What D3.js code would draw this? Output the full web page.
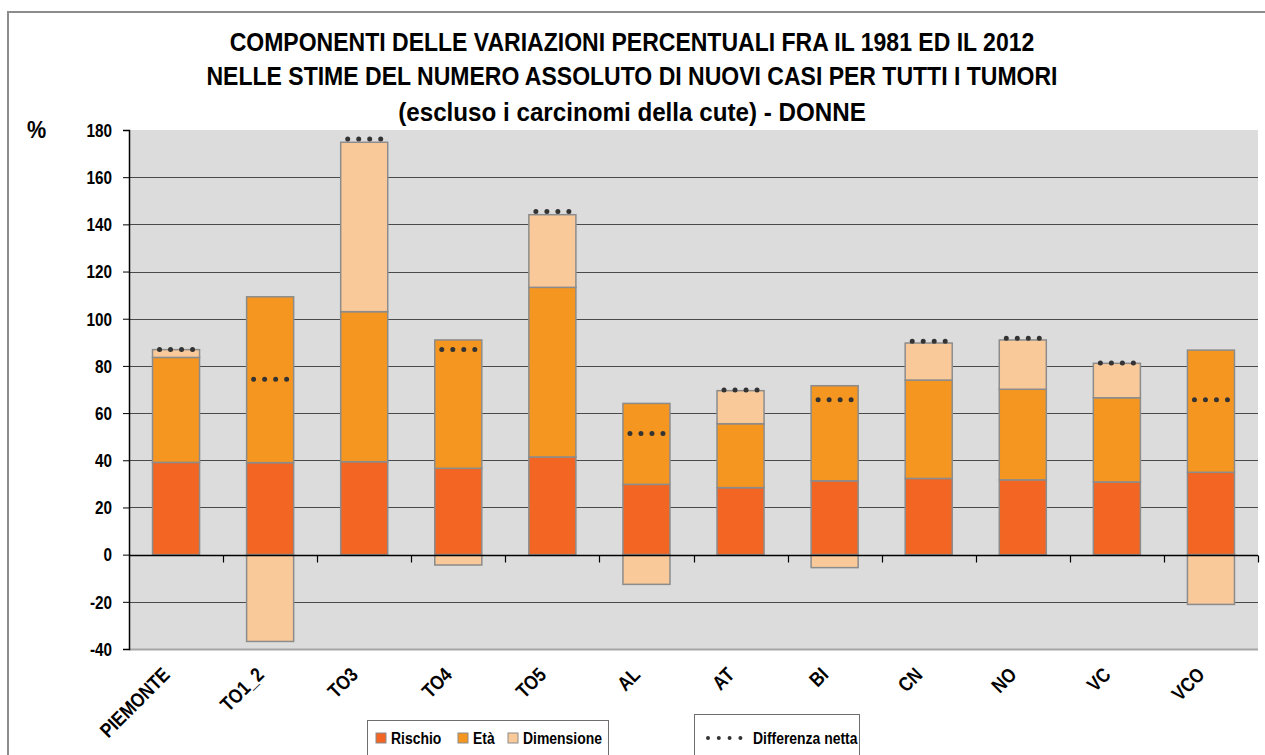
<!DOCTYPE html>
<html>
<head>
<meta charset="utf-8">
<script src="https://cdnjs.cloudflare.com/ajax/libs/d3/7.8.5/d3.min.js"></script>
<style>
  body { margin: 0; background: #fff; }
  svg text { font-family: "Liberation Sans Narrow", "Arial Narrow", "Liberation Sans", Arial, sans-serif; font-weight: bold; fill: #000; }
</style>
</head>
<body>
<div id="chart"></div>
<script>
	//Data
	var categories = ["PIEMONTE", "TO1_2", "TO3", "TO4", "TO5", "AL", "AT", "BI", "CN", "NO", "VC", "VCO"];
	var rischio    = [39.1, 39.0, 39.4, 36.6, 41.4, 29.8, 28.4, 31.3, 32.3, 31.7, 30.8, 34.9];
	var eta        = [44.5, 70.3, 63.6, 54.4, 71.9, 34.3, 27.1, 40.3, 41.7, 38.4, 35.7, 51.8];
	var dimensione = [3.3, -36.8, 71.8, -4.4, 30.8, -12.6, 14.0, -5.5, 15.7, 20.9, 14.6, -21.1];
	var netta      = [87.0, 74.3, 176.2, 87.0, 145.4, 51.3, 69.8, 65.7, 90.5, 91.7, 81.2, 65.7];
	var yTicks     = [-40, -20, 0, 20, 40, 60, 80, 100, 120, 140, 160, 180];
	var seriesNames = ["Rischio", "Età", "Dimensione"];
	var titleLines = [
		"COMPONENTI DELLE VARIAZIONI PERCENTUALI FRA IL 1981 ED IL 2012",
		"NELLE STIME DEL NUMERO ASSOLUTO DI NUOVI CASI PER TUTTI I TUMORI",
		"(escluso i carcinomi della cute) - DONNE"
	];

	var colors = d3.scaleOrdinal()
		.domain(seriesNames)
		.range(["#f26522", "#f4961f", "#f9c999"]);

	var width = 1265, height = 755;
	var plot = { left: 129, right: 1258, top: 130, bottom: 649 };

	//squeeze text horizontally, the original uses a condensed face
	function narrow(sel, f) {
		sel.each(function(d, i){
			var k = typeof f === "function" ? f(d, i) : f;
			var w = this.getComputedTextLength();
			d3.select(this)
				.attr("textLength", w * k)
				.attr("lengthAdjust", "spacingAndGlyphs");
		});
	}

	var svg = d3.select("#chart").append("svg")
		.attr("width", width)
		.attr("height", height);

	//outer chart frame (runs off the right and bottom edge)
	svg.append("rect")
		.attr("x", 8).attr("y", 12)
		.attr("width", 1300).attr("height", 800)
		.attr("fill", "#fff")
		.attr("stroke", "#8c8c8c")
		.attr("stroke-width", 2);

	var x = d3.scaleBand()
		.domain(categories)
		.range([plot.left, plot.right])
		.paddingInner(0.5)
		.paddingOuter(0.25);

	var xOuter = d3.scaleBand()
		.domain(categories)
		.range([plot.left, plot.right]);

	var y = d3.scaleLinear()
		.domain([-40, 180])
		.range([plot.bottom, plot.top]);

	//plot background
	svg.append("rect")
		.attr("x", plot.left).attr("y", plot.top)
		.attr("width", plot.right - plot.left)
		.attr("height", plot.bottom - plot.top)
		.attr("fill", "#dcdcdc");
	svg.append("line")
		.attr("x1", plot.left).attr("x2", plot.right)
		.attr("y1", plot.bottom + 0.5).attr("y2", plot.bottom + 0.5)
		.attr("stroke", "#a6a6a6").attr("stroke-width", 2);

	//gridlines
	svg.append("g")
		.selectAll("line")
		.data(yTicks.filter(function(d){ return d > -40 && d < 180 && d != 0; }))
		.enter()
		.append("line")
		.attr("x1", plot.left).attr("x2", plot.right)
		.attr("y1", function(d){ return Math.round(y(d)) + 0.5; })
		.attr("y2", function(d){ return Math.round(y(d)) + 0.5; })
		.attr("stroke", "#4a4a4a")
		.attr("stroke-width", 1.2);

	//stacked bars, negatives go below zero
	var rows = categories.map(function(c, i){
		return { cat: c, "Rischio": rischio[i], "Età": eta[i], "Dimensione": dimensione[i] };
	});
	var stack = d3.stack()
		.keys(seriesNames)
		.offset(d3.stackOffsetDiverging);
	var layers = stack(rows);

	svg.append("g")
		.selectAll("g")
		.data(layers)
		.enter()
		.append("g")
		.attr("fill", function(d){ return colors(d.key); })
		.selectAll("rect")
		.data(function(d){ return d; })
		.enter()
		.append("rect")
		.attr("x", function(d){ return x(d.data.cat); })
		.attr("width", x.bandwidth())
		.attr("y", function(d){ return y(Math.max(d[0], d[1])); })
		.attr("height", function(d){ return Math.abs(y(d[0]) - y(d[1])); })
		.attr("stroke", "#8c8c8c")
		.attr("stroke-width", 1.5);

	//y axis
	var yAxis = d3.axisLeft(y)
		.tickValues(yTicks)
		.tickSize(6)
		.tickPadding(11)
		.tickFormat(function(d){ return String(d); });
	var gy = svg.append("g")
		.attr("transform", "translate(" + plot.left + ",0)")
		.call(yAxis);
	gy.select(".domain").attr("stroke", "#000").attr("stroke-width", 1.5);
	gy.selectAll(".tick line").attr("stroke", "#000");
	gy.selectAll(".tick text")
		.style("font-size", "18px")
		.attr("dy", "0.35em")
		.call(narrow, 0.85);

	//x axis on the zero line
	var zeroY = Math.round(y(0)) + 0.5;
	svg.append("line")
		.attr("x1", plot.left).attr("x2", plot.right)
		.attr("y1", zeroY).attr("y2", zeroY)
		.attr("stroke", "#000").attr("stroke-width", 1.5);
	svg.append("g")
		.selectAll("line")
		.data(categories)
		.enter()
		.append("line")
		.attr("x1", function(d){ return Math.round(xOuter(d) + xOuter.bandwidth()) + 0.5; })
		.attr("x2", function(d){ return Math.round(xOuter(d) + xOuter.bandwidth()) + 0.5; })
		.attr("y1", zeroY).attr("y2", zeroY + 7)
		.attr("stroke", "#000").attr("stroke-width", 1.2);

	//category labels, rotated
	svg.append("g")
		.selectAll("text")
		.data(categories)
		.enter()
		.append("text")
		.attr("transform", function(d){
			var cx = xOuter(d) + xOuter.bandwidth() / 2 - 5;
			return "translate(" + cx + ",676) rotate(-45)";
		})
		.attr("text-anchor", "end")
		.style("font-size", "20px")
		.text(function(d){ return d; })
		.call(narrow, 0.85);

	//net difference as 4 dots
	svg.append("g")
		.selectAll("line")
		.data(categories)
		.enter()
		.append("line")
		.attr("x1", function(d){ return x(d) + x.bandwidth() / 2 - 16.5; })
		.attr("x2", function(d){ return x(d) + x.bandwidth() / 2 + 17; })
		.attr("y1", function(d, i){ return y(netta[i]); })
		.attr("y2", function(d, i){ return y(netta[i]); })
		.attr("stroke", "#333")
		.attr("stroke-width", 5)
		.attr("stroke-linecap", "round")
		.attr("stroke-dasharray", "0 11");

	//title
	svg.append("g")
		.selectAll("text")
		.data(titleLines)
		.enter()
		.append("text")
		.attr("x", 632)
		.attr("y", function(d, i){ return [51, 85, 121][i]; })
		.attr("text-anchor", "middle")
		.style("font-size", "26px")
		.text(function(d){ return d; })
		.call(narrow, function(d, i){ return i == 2 ? 0.93 : 0.885; });

	svg.append("text")
		.attr("x", 27).attr("y", 138)
		.style("font-size", "24px")
		.text("%")
		.call(narrow, 0.9);

	//legend 1
	var leg1 = svg.append("g");
	leg1.append("rect")
		.attr("x", 367.5).attr("y", 720.5)
		.attr("width", 241).attr("height", 60)
		.attr("fill", "#fff")
		.attr("stroke", "#6e6e6e");
	var legX = [376, 458, 508];
	var item = leg1.selectAll("g.item")
		.data(seriesNames)
		.enter()
		.append("g")
		.attr("class", "item")
		.attr("transform", function(d, i){ return "translate(" + legX[i] + ",733)"; });
	item.append("rect")
		.attr("width", 10).attr("height", 10)
		.attr("fill", function(d){ return colors(d); })
		.attr("stroke", "#8c8c8c");
	item.append("text")
		.attr("x", 15).attr("y", 11)
		.style("font-size", "16px")
		.text(function(d){ return d; })
		.call(narrow, 0.87);

	//legend 2
	var leg2 = svg.append("g");
	leg2.append("rect")
		.attr("x", 694.5).attr("y", 714.5)
		.attr("width", 165).attr("height", 60)
		.attr("fill", "#fff")
		.attr("stroke", "#6e6e6e");
	leg2.append("line")
		.attr("x1", 708).attr("x2", 741)
		.attr("y1", 738).attr("y2", 738)
		.attr("stroke", "#333")
		.attr("stroke-width", 4)
		.attr("stroke-linecap", "round")
		.attr("stroke-dasharray", "0 10.8");
	leg2.append("text")
		.attr("x", 753).attr("y", 744)
		.style("font-size", "16px")
		.text("Differenza netta")
		.call(narrow, 0.87);
</script>
</body>
</html>
